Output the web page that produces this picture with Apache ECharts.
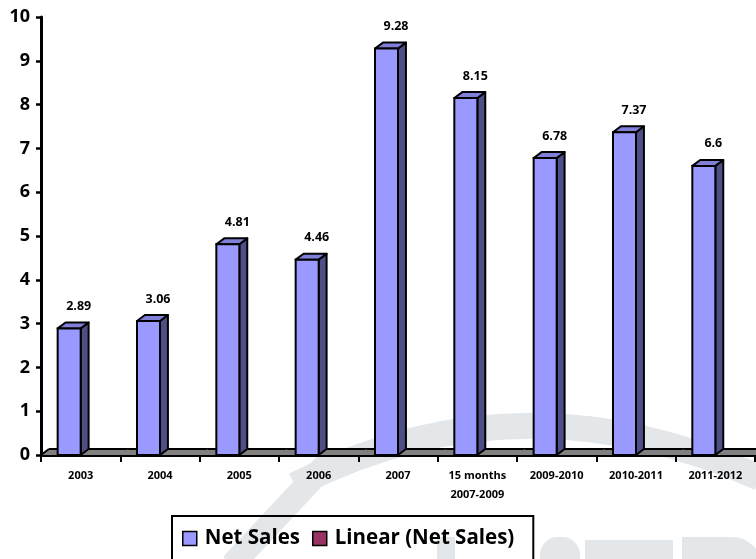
<!DOCTYPE html>
<html>
<head>
<meta charset="utf-8">
<script src="https://cdn.jsdelivr.net/npm/echarts@6/dist/echarts.min.js"></script>
<style>html,body{margin:0;padding:0;background:#fff}#c{width:756px;height:559px}</style>
</head>
<body>
<div id="c"></div>
<script>
var categories = ['2003','2004','2005','2006','2007','15 months\n2007-2009','2009-2010','2010-2011','2011-2012'];
var netSales = [2.89, 3.06, 4.81, 4.46, 9.28, 8.15, 6.78, 7.37, 6.6];
var yTicks = [0,1,2,3,4,5,6,7,8,9,10];
var seriesNames = ['Net Sales', 'Linear (Net Sales)'];

var FONT = '"Open Sans", Lato, sans-serif';
var chart = echarts.init(document.getElementById('c'), null, {renderer: 'canvas'});

function renderBar(params, api) {
  var xi = api.value(0), v = api.value(1);
  var top = api.coord([xi, v]);
  var base = api.coord([xi, 0]);
  var bw = api.size([1, 0])[0];
  var fw = bw * 0.29, dx = bw * 0.1, dy = dx * 0.75;
  var x1 = top[0], x0 = x1 - fw, yT = top[1], yB = base[1];
  var fx0 = base[0] - bw / 2, fx1 = base[0] + bw / 2 + 1;
  var children = [];
  children.push({type: 'polygon', shape: {points: [[fx0, yB], [fx0 + dx, yB - dy], [fx1 + dx, yB - dy], [fx1, yB]]},
    style: {fill: '#808080', stroke: null}});
  children.push({type: 'line', shape: {x1: fx0 + dx, y1: yB - dy, x2: fx1 + dx, y2: yB - dy}, style: {stroke: '#000', lineWidth: 2}});
  if (params.dataIndex === 0) {
    children.push({type: 'line', shape: {x1: fx0, y1: yB, x2: fx0 + dx, y2: yB - dy}, style: {stroke: '#000', lineWidth: 2}});
  }
  children.push({type: 'polygon', shape: {points: [[x1, yT], [x1 + dx, yT - dy], [x1 + dx, yB - dy], [x1, yB]]},
    style: {fill: '#4F4F88', stroke: '#000', lineWidth: 2, lineJoin: 'round'}});
  children.push({type: 'polygon', shape: {points: [[x0, yT], [x0 + dx, yT - dy], [x1 + dx, yT - dy], [x1, yT]]},
    style: {fill: '#8080D8', stroke: '#000', lineWidth: 2, lineJoin: 'round'}});
  children.push({type: 'rect', shape: {x: x0, y: yT, width: fw, height: yB - yT},
    style: {fill: '#9999FF', stroke: '#000', lineWidth: 2}});
  children.push({type: 'text', x: x1 - 2, y: yT - 22,
    style: {text: String(v), fill: '#000', font: 'bold 12.5px ' + FONT, align: 'center', verticalAlign: 'middle'}});
  return {type: 'group', children: children};
}

var wm = '#e3e7ea';
var option = {
  animation: false,
  backgroundColor: '#fff',
  graphic: {elements: [
    {type: 'bezierCurve', z: -10, shape: {x1: 295, y1: 485, cpx1: 520, cpy1: 370, x2: 760, y2: 478}, style: {fill: null, stroke: wm, lineWidth: 26}},
    {type: 'line', z: -10, shape: {x1: 232, y1: 565, x2: 330, y2: 460}, style: {stroke: wm, lineWidth: 24}},
    {type: 'rect', z: -10, shape: {x: 437, y: 537, width: 18, height: 30}, style: {fill: wm}},
    {type: 'rect', z: -10, shape: {x: 540, y: 537, width: 40, height: 30, r: [18, 18, 0, 0]}, style: {fill: wm}},
    {type: 'rect', z: -10, shape: {x: 585, y: 540, width: 88, height: 30}, style: {fill: wm}},
    {type: 'rect', z: -10, shape: {x: 682, y: 537, width: 80, height: 30, r: [0, 30, 0, 0]}, style: {fill: wm}}
  ]},
  grid: {left: 41, top: 17, right: 1, bottom: 104, containLabel: false},
  legend: {
    data: seriesNames,
    left: 172, top: 516,
    padding: [12, 19, 20, 10],
    borderColor: '#000', borderWidth: 2,
    itemWidth: 14, itemHeight: 14, itemGap: 12,
    icon: 'rect',
    itemStyle: {borderColor: '#000', borderWidth: 1.5},
    textStyle: {fontFamily: FONT, fontWeight: 'bold', fontSize: 20.5, color: '#000', padding: [0, 0, 0, 3]}
  },
  xAxis: {
    type: 'category', data: categories, boundaryGap: true,
    axisLine: {lineStyle: {color: '#000', width: 3}},
    axisTick: {show: true, length: 7, lineStyle: {color: '#000', width: 2}},
    axisLabel: {interval: 0, fontFamily: FONT, fontWeight: 'bold', fontSize: 11, color: '#000', margin: 11, lineHeight: 19},
    splitLine: {show: false}
  },
  yAxis: {
    type: 'value', min: yTicks[0], max: yTicks[yTicks.length - 1], interval: 1,
    axisLine: {show: true, lineStyle: {color: '#000', width: 3}},
    axisTick: {show: true, length: 5, lineStyle: {color: '#000', width: 2.5}},
    axisLabel: {fontFamily: FONT, fontWeight: 'bold', fontSize: 18, color: '#000', margin: 11},
    splitLine: {show: false}
  },
  series: [
    {name: seriesNames[0], type: 'custom', renderItem: renderBar, itemStyle: {color: '#9999FF'},
      encode: {x: 0, y: 1}, data: netSales.map(function (v, i) { return [i, v]; }), z: 3},
    {name: seriesNames[1], type: 'line', data: [], itemStyle: {color: '#993366'}, lineStyle: {color: '#993366'}}
  ]
};
chart.setOption(option);
</script>
</body>
</html>
